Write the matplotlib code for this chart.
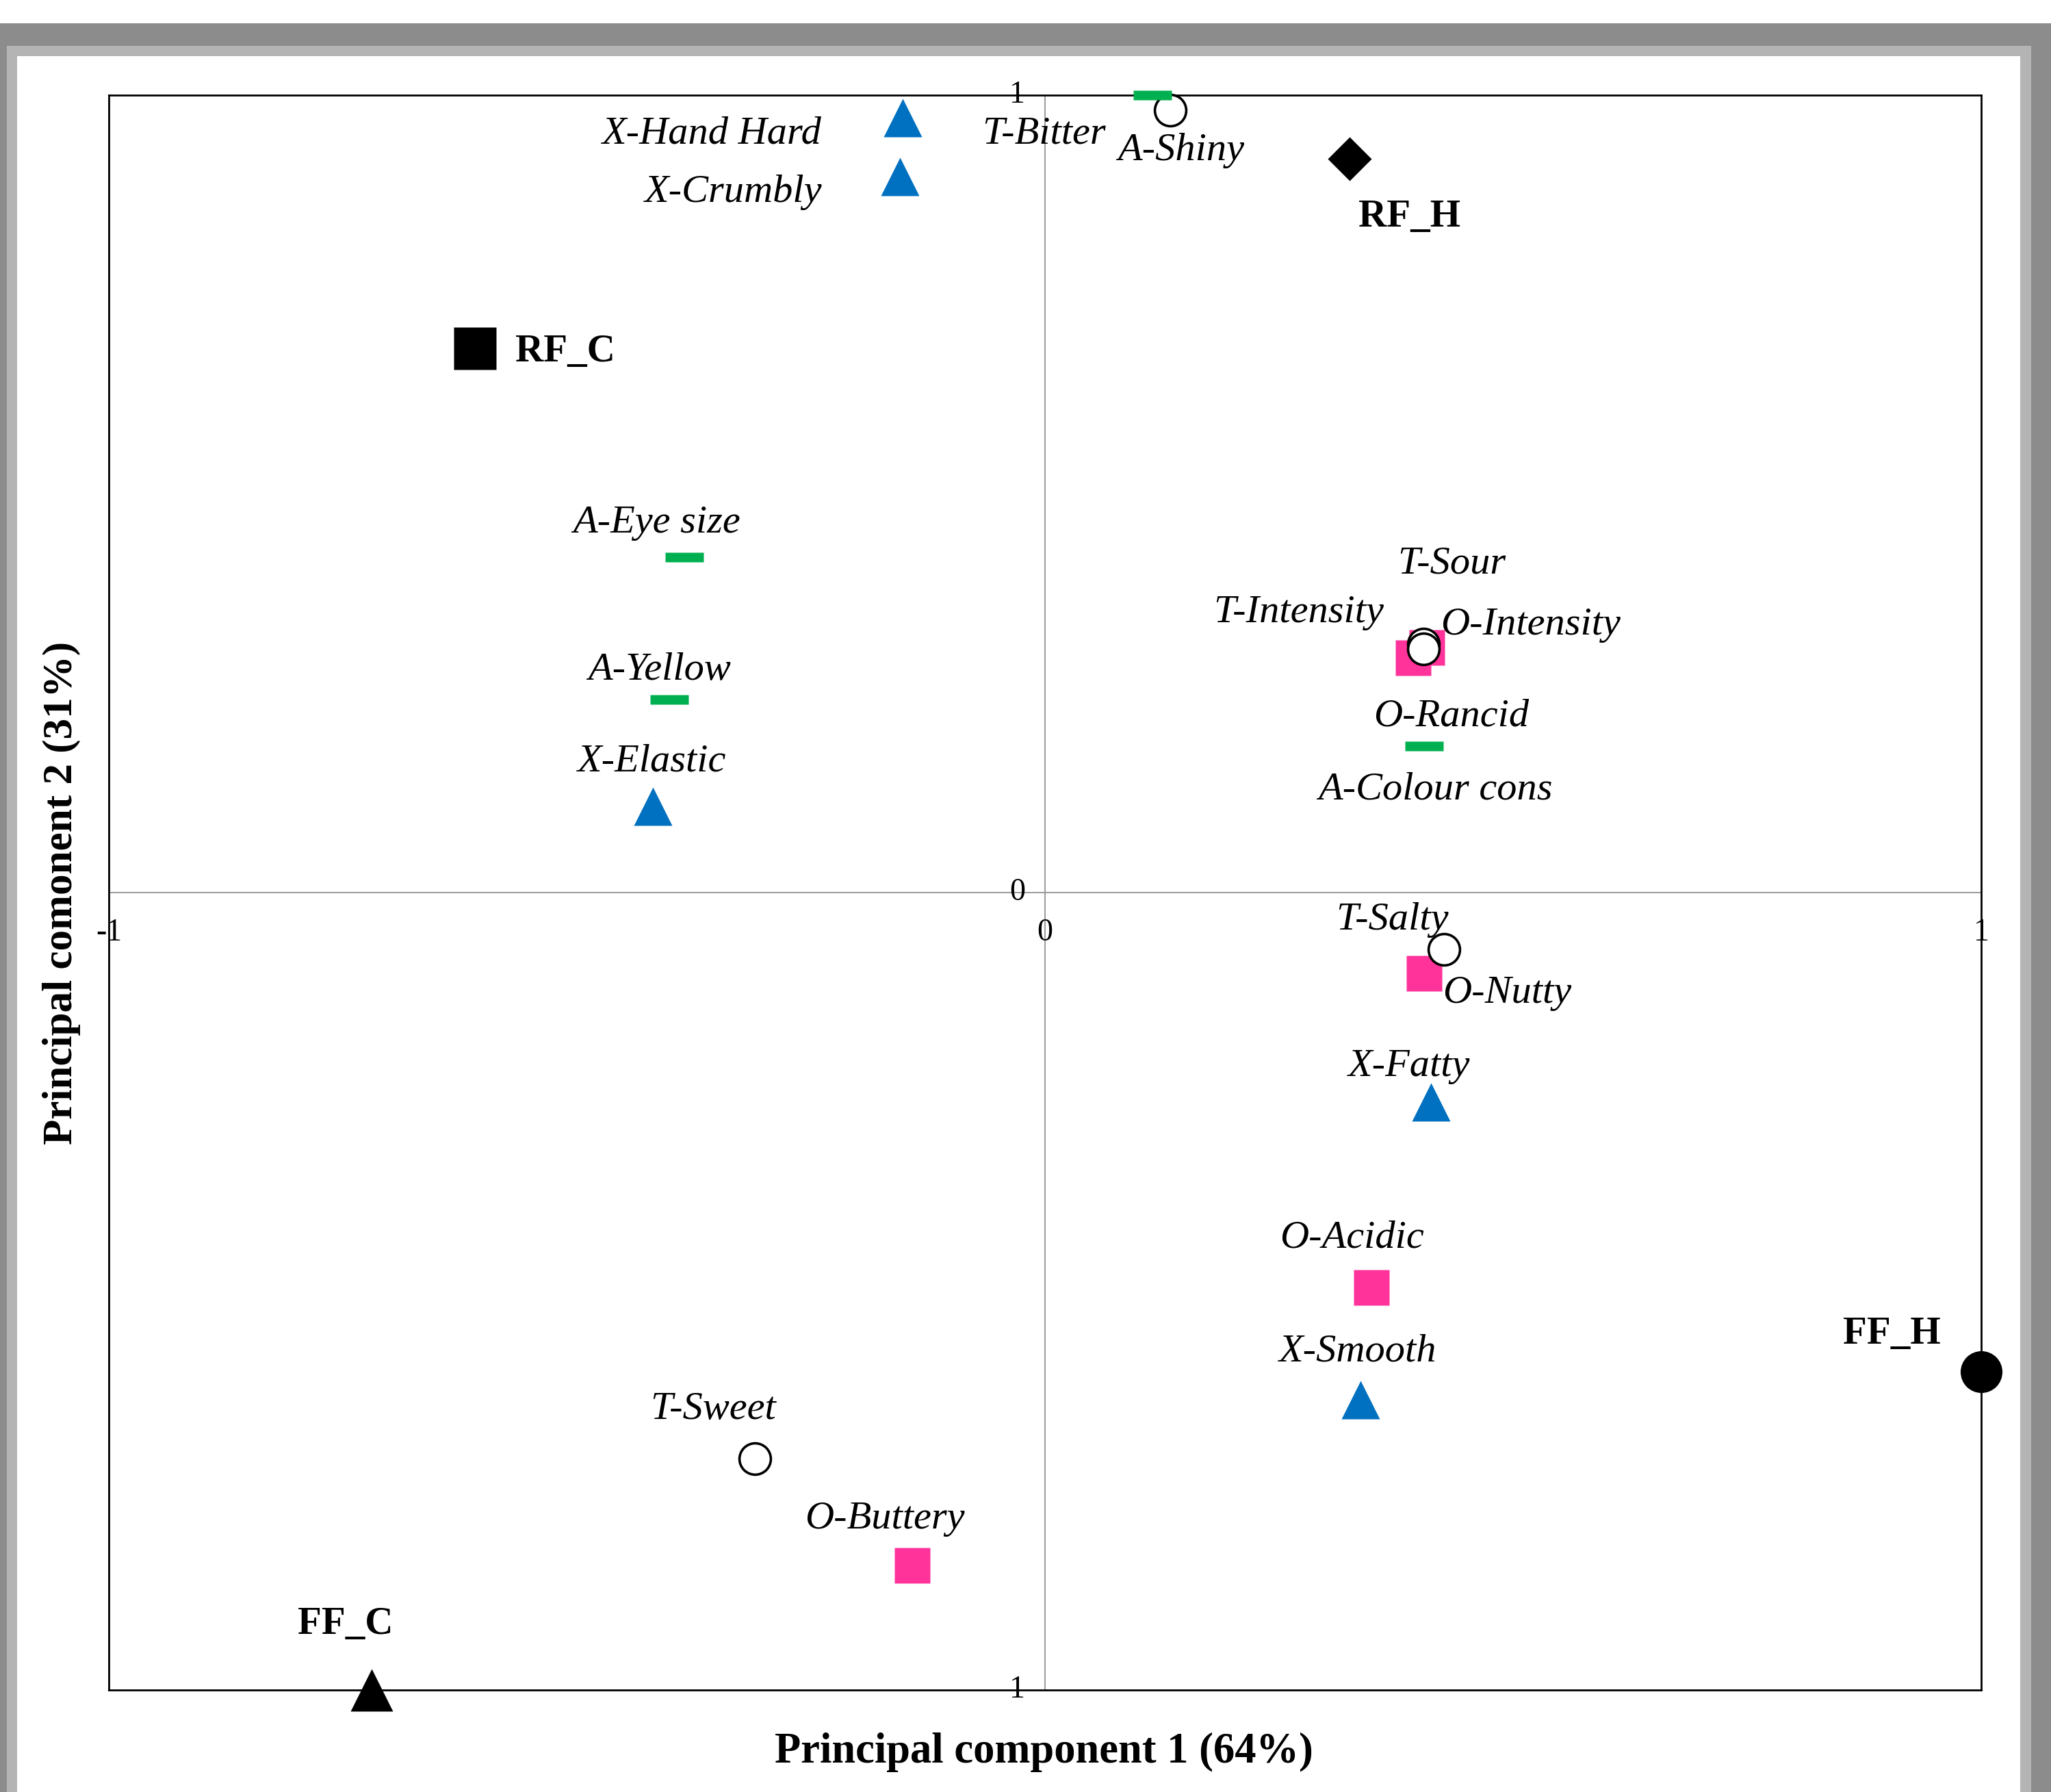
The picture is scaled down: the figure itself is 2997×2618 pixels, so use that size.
import matplotlib.pyplot as plt
import matplotlib.patches as mpatches
from matplotlib.path import Path
from matplotlib.markers import MarkerStyle

plt.rcParams['font.family'] = ['Liberation Serif', 'DejaVu Serif']

# texture attributes (blue triangles)
tex_names = ['X-Hand Hard', 'X-Crumbly', 'X-Elastic', 'X-Fatty', 'X-Smooth']
tex_pc1 = [-0.152, -0.155, -0.419, 0.412, 0.337]
tex_pc2 = [0.972, 0.898, 0.108, -0.263, -0.636]

# appearance attributes (green dashes)
app_names = ['A-Eye size', 'A-Yellow', 'A-Colour cons', 'A-Shiny']
app_pc1 = [-0.385, -0.401, 0.405, 0.115]
app_pc2 = [0.421, 0.242, 0.184, 1.0]

# taste attributes (open circles)
taste_names = ['T-Bitter', 'T-Sour', 'T-Intensity', 'T-Salty', 'T-Sweet']
taste_pc1 = [0.134, 0.404, 0.404, 0.426, -0.310]
taste_pc2 = [0.981, 0.312, 0.306, -0.071, -0.710]

# odour attributes (pink squares)
odour_names = ['O-Intensity', 'O-Rancid', 'O-Nutty', 'O-Acidic', 'O-Buttery']
odour_pc1 = [0.408, 0.393, 0.405, 0.349, -0.142]
odour_pc2 = [0.307, 0.294, -0.101, -0.495, -0.844]

# samples (black markers)
sample_names = ['RF_C', 'RF_H', 'FF_H', 'FF_C']
sample_pc1 = [-0.609, 0.325, 1.0, -0.719]
sample_pc2 = [0.682, 0.920, -0.601, -1.0]

# label offsets in points
tex_off = [(-201, -17), (-175, -17), (-1, 47), (-23, 38), (-3, 51)]
app_off = [(-29, 36), (-11, 31), (12, -46), (30, -58)]
taste_off = [(-133, -25), (30, 84), (-131, 38), (-54, 31), (-44, 52)]
odour_off = [(109, 24), (40, -61), (87, -21), (-21, 52), (-29, 49)]
sample_off = [(95, -3), (63, -61), (-94, 40), (-28, 69)]

W, H = 2997, 2618
fig = plt.figure(figsize=(W / 100, H / 100), dpi=100, facecolor='white')

# window-like grey frame
fig.patches.append(mpatches.Rectangle((0, 0), 1, (H - 34) / H, transform=fig.transFigure,
                                      facecolor='#8c8c8c', edgecolor='none', zorder=-3))
fig.patches.append(mpatches.Rectangle((10 / W, 0), (2968 - 10) / W, (H - 67) / H,
                                      transform=fig.transFigure,
                                      facecolor='#b4b4b4', edgecolor='none', zorder=-2))
fig.patches.append(mpatches.Rectangle((25 / W, 0), (2952 - 25) / W, (H - 82) / H,
                                      transform=fig.transFigure,
                                      facecolor='white', edgecolor='none', zorder=-1))

ax = fig.add_axes([159 / W, 149 / H, (2895 - 159) / W, (2469 - 139) / H])
ax.set_xlim(-1, 1)
ax.set_ylim(-1, 1)
ax.set_xticks([])
ax.set_yticks([])
for s in ax.spines.values():
    s.set_linewidth(2)
    s.set_color('black')
    s.set_zorder(2)

ax.axhline(0, color='#999999', lw=1.4, zorder=1)
ax.axvline(0, color='#999999', lw=1.4, zorder=1)

# tick labels at the crossing axes
for v, t in zip([1, 0, -1], ['1', '0', '1']):
    ax.annotate(t, (0, v), xytext=(-21, 0), textcoords='offset points',
                ha='right', va='center', fontsize=33, zorder=3, annotation_clip=False)
for v, t in zip([-1, 0, 1], ['-1', '0', '1']):
    ax.annotate(t, (v, 0), xytext=(0, -42), textcoords='offset points',
                ha='center', va='center', fontsize=33, zorder=3, annotation_clip=False)

dash = MarkerStyle(Path([(-0.5, -0.13), (0.5, -0.13), (0.5, 0.13), (-0.5, 0.13), (-0.5, -0.13)],
                        [Path.MOVETO, Path.LINETO, Path.LINETO, Path.LINETO, Path.CLOSEPOLY]))

ax.plot(odour_pc1, odour_pc2, 's', ms=37, color='#ff3399', mec='none', clip_on=False, zorder=4)
ax.plot(taste_pc1, taste_pc2, 'o', ms=33, mfc='white', mec='black', mew=2.6, clip_on=False, zorder=5)
ax.plot(app_pc1, app_pc2, ls='none', marker=dash, ms=41, color='#00b050', mec='none',
        clip_on=False, zorder=6)
ax.plot(tex_pc1, tex_pc2, '^', ms=41, color='#0070c0', mec='none', clip_on=False, zorder=6)

sample_markers = ['s', 'D', 'o', '^']
sample_sizes = [44, 33, 44, 45]
for x, y, m, s in zip(sample_pc1, sample_pc2, sample_markers, sample_sizes):
    ax.plot([x], [y], m, ms=s, color='black', mec='none', clip_on=False, zorder=7)


def put_labels(names, xs, ys, offs, **kw):
    for n, x, y, o in zip(names, xs, ys, offs):
        ax.annotate(n, (x, y), xytext=o, textcoords='offset points', ha='center', va='center',
                    annotation_clip=False, zorder=8, **kw)


put_labels(tex_names, tex_pc1, tex_pc2, tex_off, fontsize=42, style='italic')
put_labels(app_names, app_pc1, app_pc2, app_off, fontsize=42, style='italic')
put_labels(taste_names, taste_pc1, taste_pc2, taste_off, fontsize=42, style='italic')
put_labels(odour_names, odour_pc1, odour_pc2, odour_off, fontsize=42, style='italic')
put_labels(sample_names, sample_pc1, sample_pc2, sample_off, fontsize=41, weight='bold')

fig.text(1525 / W, (H - 2560) / H, 'Principal component 1 (64%)', ha='center', va='center',
         fontsize=45, weight='bold')
fig.text(90 / W, (H - 1305) / H, 'Principal comonent 2 (31%)', ha='center', va='center',
         rotation=90, fontsize=44, weight='bold')

fig.savefig('out.png', dpi=100, facecolor='white')
